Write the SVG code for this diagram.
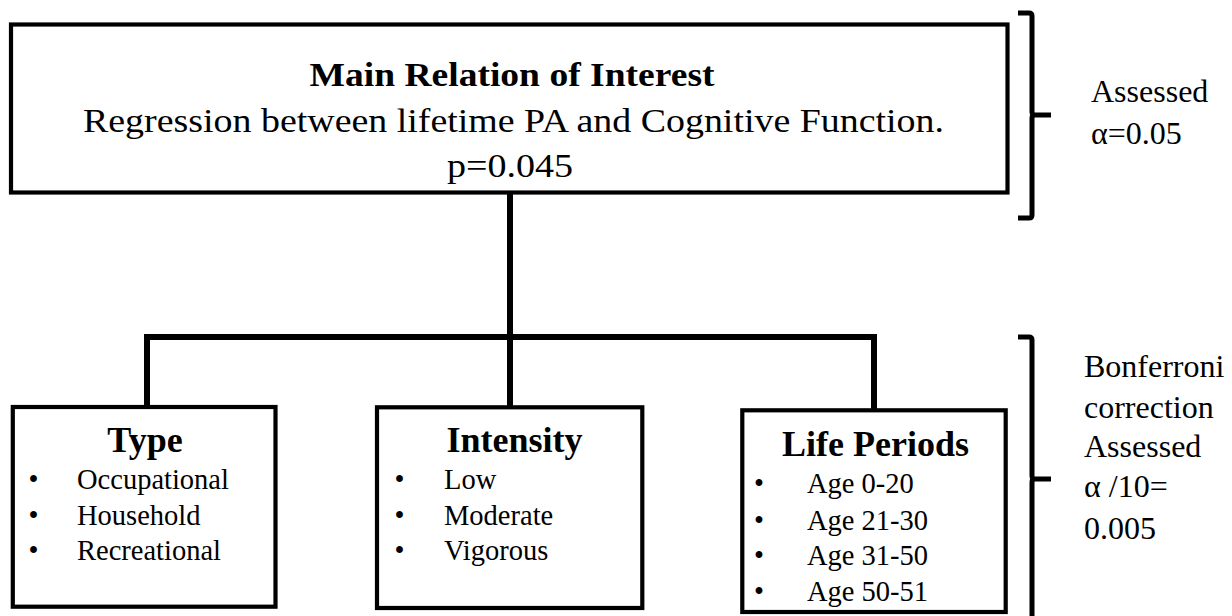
<svg xmlns="http://www.w3.org/2000/svg" width="1232" height="616" viewBox="0 0 1232 616">
<style>
.box{fill:#fff;stroke:#000;stroke-width:4.2}
.conn{fill:none;stroke:#000;stroke-width:6;stroke-linejoin:miter;stroke-linecap:butt}
.br{fill:none;stroke:#000;stroke-width:5;stroke-linejoin:round;stroke-linecap:butt}
text{font-family:"Liberation Serif","Times New Roman",serif;fill:#000}
.t1{font-size:34px;font-weight:bold}
.t2{font-size:33px}
.h{font-size:36px;font-weight:bold;text-anchor:middle}
.li{font-size:28.5px}
.side{font-size:32px}
</style>
<rect width="1232" height="616" fill="#fff"/>
<g id="connectors">
<path class="conn" d="M510,193 V407"/>
<path class="conn" d="M147,407 V337 H874 V410"/>
</g>
<g id="main">
<rect class="box" x="11" y="24.5" width="996.5" height="168"/>
<text class="t1" x="512" y="86" text-anchor="middle" textLength="405" lengthAdjust="spacingAndGlyphs">Main Relation of Interest</text>
<text class="t2" x="83" y="132" textLength="861" lengthAdjust="spacingAndGlyphs">Regression between lifetime PA and Cognitive Function.</text>
<text class="t2" x="447" y="177" textLength="126" lengthAdjust="spacingAndGlyphs">p=0.045</text>
</g>
<g id="type">
<rect class="box" x="12.8" y="407" width="262.7" height="199.7"/>
<text class="h" x="145" y="452">Type</text>
<text class="li" x="28.5" y="489">•</text><text class="li" x="77" y="489">Occupational</text>
<text class="li" x="28.5" y="524.5">•</text><text class="li" x="77" y="524.5">Household</text>
<text class="li" x="28.5" y="560">•</text><text class="li" x="77" y="560">Recreational</text>
</g>
<g id="intensity">
<rect class="box" x="377" y="407.3" width="265.3" height="200.7"/>
<text class="h" x="514.5" y="452">Intensity</text>
<text class="li" x="394.5" y="489">•</text><text class="li" x="444" y="489">Low</text>
<text class="li" x="394.5" y="524.5">•</text><text class="li" x="444" y="524.5">Moderate</text>
<text class="li" x="394.5" y="560">•</text><text class="li" x="444" y="560">Vigorous</text>
</g>
<g id="life-periods">
<rect class="box" x="742.3" y="410.3" width="263.4" height="201.7"/>
<text class="h" x="875.5" y="456">Life Periods</text>
<text class="li" x="754" y="493">•</text><text class="li" x="807" y="493">Age 0-20</text>
<text class="li" x="754" y="529.5">•</text><text class="li" x="807" y="529.5">Age 21-30</text>
<text class="li" x="754" y="565">•</text><text class="li" x="807" y="565">Age 31-50</text>
<text class="li" x="754" y="600.5">•</text><text class="li" x="807" y="600.5">Age 50-51</text>
</g>
<g id="bracket-top">
<path class="br" d="M1018,13 H1029 Q1032,13 1032,16 V112 Q1032,115 1035,115 H1051 M1035,115 Q1032,115 1032,118 V215 Q1032,218 1029,218 H1018"/>
<text class="side" x="1091" y="101.7">Assessed</text>
<text class="side" x="1091" y="144">α=0.05</text>
</g>
<g id="bracket-bottom">
<path class="br" d="M1018,337 H1029 Q1032,337 1032,340 V476 Q1032,479 1035,479 H1051 M1035,479 Q1032,479 1032,482 V625"/>
<text class="side" x="1084" y="377">Bonferroni</text>
<text class="side" x="1084" y="418">correction</text>
<text class="side" x="1084" y="457">Assessed</text>
<text class="side" x="1084" y="497">α /10=</text>
<text class="side" x="1084" y="539">0.005</text>
</g>
</svg>
